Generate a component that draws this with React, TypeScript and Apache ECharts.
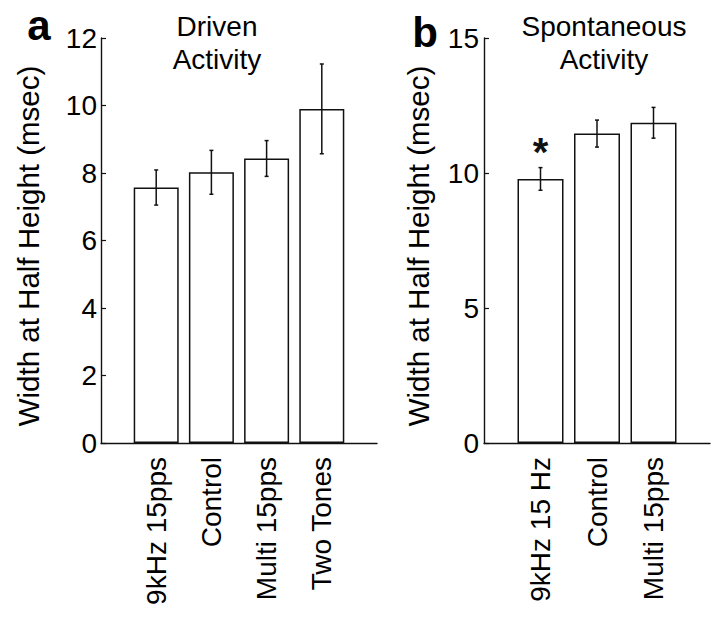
import React, { useEffect, useRef } from "react";
import * as echarts from "echarts";

const categoriesA = ["9kHz 15pps", "Control", "Multi 15pps", "Two Tones"];
const meansA = [7.57, 8.02, 8.43, 9.9];
const errorsA = [0.52, 0.65, 0.53, 1.33];

const categoriesB = ["9kHz 15 Hz", "Control", "Multi 15pps"];
const meansB = [9.78, 11.46, 11.86];
const errorsB = [0.42, 0.5, 0.57];
const sigMarksB = ["*", "", ""];

const yTicksA = { min: 0, max: 12, interval: 2 };
const yTicksB = { min: 0, max: 15, interval: 5 };

const titleA = "Driven\nActivity";
const titleB = "Spontaneous\nActivity";
const yName = "Width at Half Height (msec)";

const FONT = "'Liberation Sans', Arial, Helvetica, sans-serif";
const INK = "#111";

function padded<T>(arr: T[], pad: any) {
  return [pad, ...arr, pad];
}

function errorRender(params: any, api: any) {
  const idx = api.value(0);
  const mean = api.value(1);
  const err = api.value(2);
  const top = api.coord([idx, mean + err]);
  const bot = api.coord([idx, mean - err]);
  const cap = 2;
  const style = { stroke: INK, lineWidth: 1.5 };
  return {
    type: "group",
    children: [
      { type: "line", shape: { x1: top[0], y1: top[1], x2: bot[0], y2: bot[1] }, style },
      { type: "line", shape: { x1: top[0] - cap, y1: top[1], x2: top[0] + cap, y2: top[1] }, style },
      { type: "line", shape: { x1: bot[0] - cap, y1: bot[1], x2: bot[0] + cap, y2: bot[1] }, style },
    ],
  };
}

function sigRender(params: any, api: any) {
  const idx = api.value(0);
  const yv = api.value(1);
  const mark = sigMarksB[idx - 1] || "";
  const p = api.coord([idx, yv]);
  return {
    type: "text",
    x: p[0],
    y: p[1] - 36,
    style: {
      text: mark,
      fontSize: 40,
      fontWeight: "bold",
      fontFamily: FONT,
      fill: INK,
      align: "center",
      verticalAlign: "top",
    },
  };
}

export default function App() {
  const ref = useRef<HTMLDivElement>(null);
  useEffect(() => {
    if (!ref.current) return;
    const chart = echarts.init(ref.current, null, { renderer: "svg" });
    const axisLine = { show: true, lineStyle: { color: INK, width: 1.4 } };
    const xAxisCommon = {
      type: "category",
      boundaryGap: false,
      axisLine,
      axisTick: { show: false },
      splitLine: { show: false },
      axisLabel: {
        rotate: 90,
        interval: 0,
        fontSize: 28,
        fontFamily: FONT,
        color: "#000",
        margin: 14,
      },
    };
    const yAxisCommon = {
      type: "value",
      axisLine,
      axisTick: { show: true, inside: true, length: 5, lineStyle: { color: INK, width: 1.2 } },
      splitLine: { show: false },
      axisLabel: { fontSize: 28, fontFamily: FONT, color: "#000" },
    };
    const yLabelStyle = {
      text: yName,
      fontSize: 29.5,
      fontFamily: FONT,
      fill: "#000",
      align: "center",
      verticalAlign: "middle",
    };
    const barStyle = { color: "#fff", borderColor: INK, borderWidth: 1.5 };
    const option: any = {
      animation: false,
      backgroundColor: "#fff",
      textStyle: { fontFamily: FONT },
      grid: [
        { left: 101, top: 38, width: 276, height: 405 },
        { left: 484, top: 38, width: 226, height: 405 },
      ],
      xAxis: [
        { ...xAxisCommon, gridIndex: 0, data: padded(categoriesA, "") },
        { ...xAxisCommon, gridIndex: 1, data: padded(categoriesB, "") },
      ],
      yAxis: [
        { ...yAxisCommon, gridIndex: 0, ...yTicksA, axisLabel: { ...yAxisCommon.axisLabel, margin: 4 } },
        { ...yAxisCommon, gridIndex: 1, ...yTicksB, axisLabel: { ...yAxisCommon.axisLabel, margin: 5 } },
      ],
      graphic: [
        { type: "text", x: 28, y: 246, rotation: Math.PI / 2, style: yLabelStyle },
        { type: "text", x: 418, y: 246, rotation: Math.PI / 2, style: yLabelStyle },
        { type: "text", x: 217, y: 10, style: { text: titleA, fontSize: 28, lineHeight: 33, fontFamily: FONT, fill: "#000", align: "center", verticalAlign: "top" } },
        { type: "text", x: 604, y: 10, style: { text: titleB, fontSize: 28, lineHeight: 33, fontFamily: FONT, fill: "#000", align: "center", verticalAlign: "top" } },
        { type: "text", x: 39, y: 46, style: { text: "a", fontSize: 42, fontWeight: "bold", fontFamily: FONT, fill: "#000", align: "center", verticalAlign: "bottom" } },
        { type: "text", x: 425, y: 53, style: { text: "b", fontSize: 42, fontWeight: "bold", fontFamily: FONT, fill: "#000", align: "center", verticalAlign: "bottom" } },
      ],
      series: [
        {
          type: "bar",
          xAxisIndex: 0,
          yAxisIndex: 0,
          barWidth: 45,
          itemStyle: barStyle,
          data: padded(meansA, "-"),
        },
        {
          type: "custom",
          xAxisIndex: 0,
          yAxisIndex: 0,
          renderItem: errorRender,
          data: meansA.map((m, i) => [i + 1, m, errorsA[i]]),
          z: 5,
        },
        {
          type: "bar",
          xAxisIndex: 1,
          yAxisIndex: 1,
          barWidth: 46,
          itemStyle: barStyle,
          data: padded(meansB, "-"),
        },
        {
          type: "custom",
          xAxisIndex: 1,
          yAxisIndex: 1,
          renderItem: errorRender,
          data: meansB.map((m, i) => [i + 1, m, errorsB[i]]),
          z: 5,
        },
        {
          type: "custom",
          xAxisIndex: 1,
          yAxisIndex: 1,
          renderItem: sigRender,
          data: meansB.map((m, i) => [i + 1, m + errorsB[i]]).filter((_, i) => sigMarksB[i] !== ""),
          z: 6,
        },
      ],
    };
    chart.setOption(option);
    return () => chart.dispose();
  }, []);
  return (
    <div
      ref={ref}
      style={{ position: "fixed", left: 0, top: 0, width: 719, height: 620, background: "#fff" }}
    />
  );
}
